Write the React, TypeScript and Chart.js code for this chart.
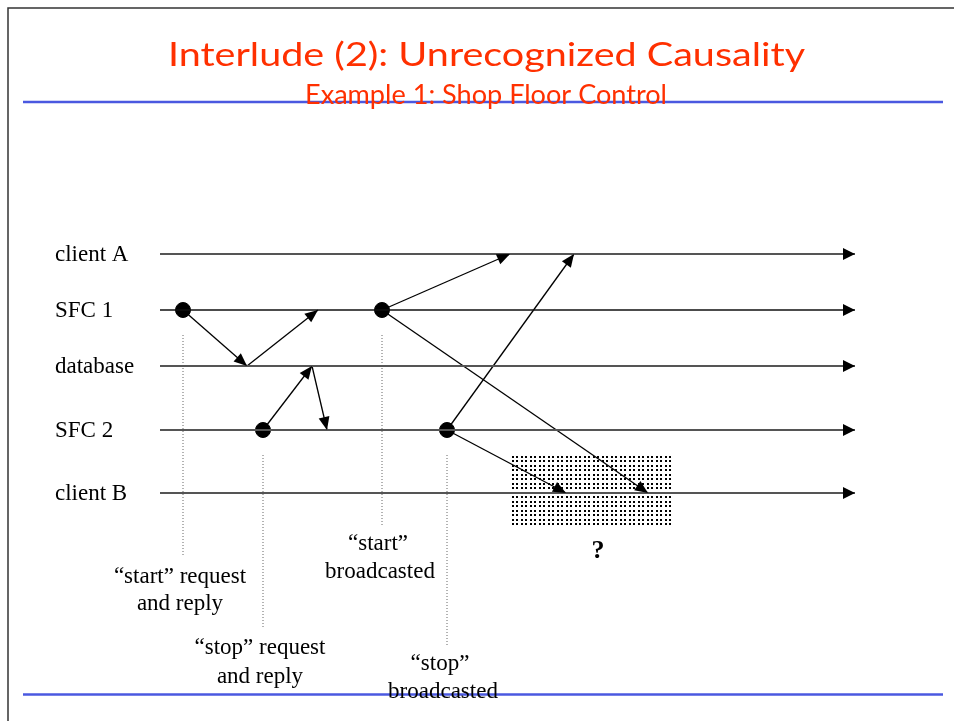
import { useEffect, useRef } from "react";
import { Chart, registerables } from "chart.js";

Chart.register(...registerables);

// ---------- diagram data ----------
const laneNames = ["client A", "SFC 1", "database", "SFC 2", "client B"];
const laneY = [254, 310, 366, 430, 493];
const laneStartX = 160;
const laneEndX = 855;

// events (black dots): time position and lane index
const eventX = [183, 382, 263, 447];
const eventLane = [1, 1, 3, 3];

// messages: from (time, lane) to (time, lane)
const msgFromX = [183, 247, 263, 312, 382, 382, 447, 447];
const msgFromLane = [1, 2, 3, 2, 1, 1, 3, 3];
const msgToX = [247, 318, 312, 327, 510, 648, 574, 566];
const msgToLane = [2, 1, 2, 3, 0, 4, 0, 4];

// dotted vertical markers below each event
const markerTop = [335, 335, 455, 455];
const markerBottom = [555, 525, 628, 645];

// annotation labels (centre x, centre y)
const noteText = [
  "\u201Cstart\u201D request",
  "and reply",
  "\u201Cstop\u201D request",
  "and reply",
  "\u201Cstart\u201D",
  "broadcasted",
  "\u201Cstop\u201D",
  "broadcasted",
];
const noteX = [180, 180, 260, 260, 378, 380, 440, 443];
const noteY = [577, 604, 648, 677, 544, 572, 664, 692];

// uncertainty region on client B
const regionX = [511, 671];
const regionY = [455, 525];

const titleText = "Interlude (2): Unrecognized Causality";
const subtitleText = "Example 1: Shop Floor Control";

const W = 954;
const H = 721;

export default function App() {
  const ref = useRef<HTMLCanvasElement>(null);

  useEffect(() => {
    const canvas = ref.current!;
    const serif = '"Liberation Serif", "Times New Roman", serif';
    const comic = '"Comic Sans MS", "Lato", "Noto Sans", sans-serif';

    const line = (pts: { x: number; y: number }[], color: string, width: number, extra: any = {}) => ({
      type: "line" as const,
      data: pts,
      borderColor: color,
      borderWidth: width,
      pointRadius: 0,
      showLine: true,
      fill: false,
      tension: 0,
      clip: false,
      ...extra,
    });

    const datasets: any[] = [];

    // blue rules
    datasets.push(line([{ x: 23, y: 102 }, { x: 943, y: 102 }], "#4a58e0", 2.5));
    datasets.push(line([{ x: 23, y: 694.5 }, { x: 943, y: 694.5 }], "#4a58e0", 2.5));
    // frame
    datasets.push(line([{ x: 8, y: 721 }, { x: 8, y: 8 }, { x: 954, y: 8 }], "#333", 1.5));

    // lanes
    laneY.forEach((y, i) => {
      datasets.push(
        line([{ x: laneStartX, y }, { x: laneEndX, y }], i === 1 ? "#111" : "#555", i === 1 ? 1.4 : 1.8, {
          arrow: { len: 12, half: 6 },
        })
      );
    });

    // dotted markers
    eventX.forEach((x, i) => {
      datasets.push(
        line([{ x, y: markerTop[i] }, { x, y: markerBottom[i] }], "#666", 1, { borderDash: [1, 2] })
      );
    });

    // messages
    msgFromX.forEach((fx, i) => {
      datasets.push(
        line(
          [
            { x: fx, y: laneY[msgFromLane[i]] },
            { x: msgToX[i], y: laneY[msgToLane[i]] },
          ],
          "#000",
          1.3,
          { arrow: { len: 13, half: 5.5 } }
        )
      );
    });

    // events
    datasets.push({
      type: "scatter",
      data: eventX.map((x, i) => ({ x, y: laneY[eventLane[i]] })),
      pointRadius: 7.5,
      pointBackgroundColor: "#000",
      pointBorderColor: "#000",
      showLine: false,
      clip: false,
    });

    // stipple pattern
    const pc = document.createElement("canvas");
    pc.width = 9;
    pc.height = 9;
    const pctx = pc.getContext("2d")!;
    pctx.fillStyle = "#fff";
    pctx.fillRect(0, 0, 9, 9);
    pctx.fillStyle = "#000";
    [1, 5].forEach((a) => [1, 5].forEach((b) => pctx.fillRect(a, b, 2, 2)));

    const bgPlugin = {
      id: "bgRegion",
      beforeDatasetsDraw(chart: any) {
        const { ctx, scales } = chart;
        const x0 = scales.x.getPixelForValue(regionX[0]);
        const x1 = scales.x.getPixelForValue(regionX[1]);
        const y0 = scales.y.getPixelForValue(regionY[0]);
        const y1 = scales.y.getPixelForValue(regionY[1]);
        ctx.save();
        ctx.translate(x0, y0);
        const pat = ctx.createPattern(pc, "repeat");
        ctx.fillStyle = pat;
        ctx.fillRect(0, 0, x1 - x0, y1 - y0);
        ctx.restore();
      },
    };

    const arrowPlugin = {
      id: "arrows",
      afterDatasetsDraw(chart: any) {
        const { ctx } = chart;
        chart.data.datasets.forEach((ds: any, di: number) => {
          if (!ds.arrow) return;
          const meta = chart.getDatasetMeta(di);
          const n = meta.data.length;
          const a = meta.data[n - 2];
          const b = meta.data[n - 1];
          const ang = Math.atan2(b.y - a.y, b.x - a.x);
          const { len, half } = ds.arrow;
          ctx.save();
          ctx.translate(b.x, b.y);
          ctx.rotate(ang);
          ctx.beginPath();
          ctx.moveTo(0, 0);
          ctx.lineTo(-len, -half);
          ctx.lineTo(-len, half);
          ctx.closePath();
          ctx.fillStyle = "#000";
          ctx.fill();
          ctx.restore();
        });
      },
    };

    const textPlugin = {
      id: "texts",
      afterDraw(chart: any) {
        const { ctx, scales } = chart;
        const px = (v: number) => scales.x.getPixelForValue(v);
        const py = (v: number) => scales.y.getPixelForValue(v);
        ctx.save();
        // text drawn at a given font size, stretched horizontally to a target width
        const stretched = (t: string, size: number, width: number, cx: number, base: number) => {
          ctx.font = `normal ${size}px ${comic}`;
          const w = ctx.measureText(t).width;
          ctx.save();
          ctx.translate(px(cx), py(base));
          ctx.scale(width / w, 1);
          ctx.fillText(t, 0, 0);
          ctx.restore();
        };
        ctx.fillStyle = "#ff3000";
        ctx.textAlign = "center";
        ctx.textBaseline = "alphabetic";
        stretched(titleText, 32, 637, 486.5, 66);
        stretched(subtitleText, 26, 362, 486, 104);

        ctx.fillStyle = "#000";
        ctx.font = `23px ${serif}`;
        ctx.textAlign = "left";
        ctx.textBaseline = "middle";
        laneNames.forEach((n, i) => ctx.fillText(n, px(55), py(laneY[i] + 1)));

        ctx.textAlign = "center";
        noteText.forEach((t, i) => ctx.fillText(t, px(noteX[i]), py(noteY[i])));

        ctx.font = `bold 26px ${serif}`;
        ctx.fillText("?", px(598), py(551));
        ctx.restore();
      },
    };

    const chart = new Chart(canvas, {
      type: "line",
      data: { datasets },
      options: {
        responsive: false,
        animation: false,
        events: [],
        layout: { padding: 0, autoPadding: false },
        scales: {
          x: { type: "linear", min: 0, max: W, display: false },
          y: { type: "linear", min: 0, max: H, reverse: true, display: false },
        },
        plugins: { legend: { display: false }, tooltip: { enabled: false }, title: { display: false } },
      } as any,
      plugins: [bgPlugin, arrowPlugin, textPlugin],
    });
    return () => chart.destroy();
  }, []);

  return (
    <div style={{ position: "absolute", left: 0, top: 0, width: W, height: H, background: "#fff" }}>
      <canvas ref={ref} width={W} height={H} style={{ width: W, height: H, display: "block" }} />
    </div>
  );
}
